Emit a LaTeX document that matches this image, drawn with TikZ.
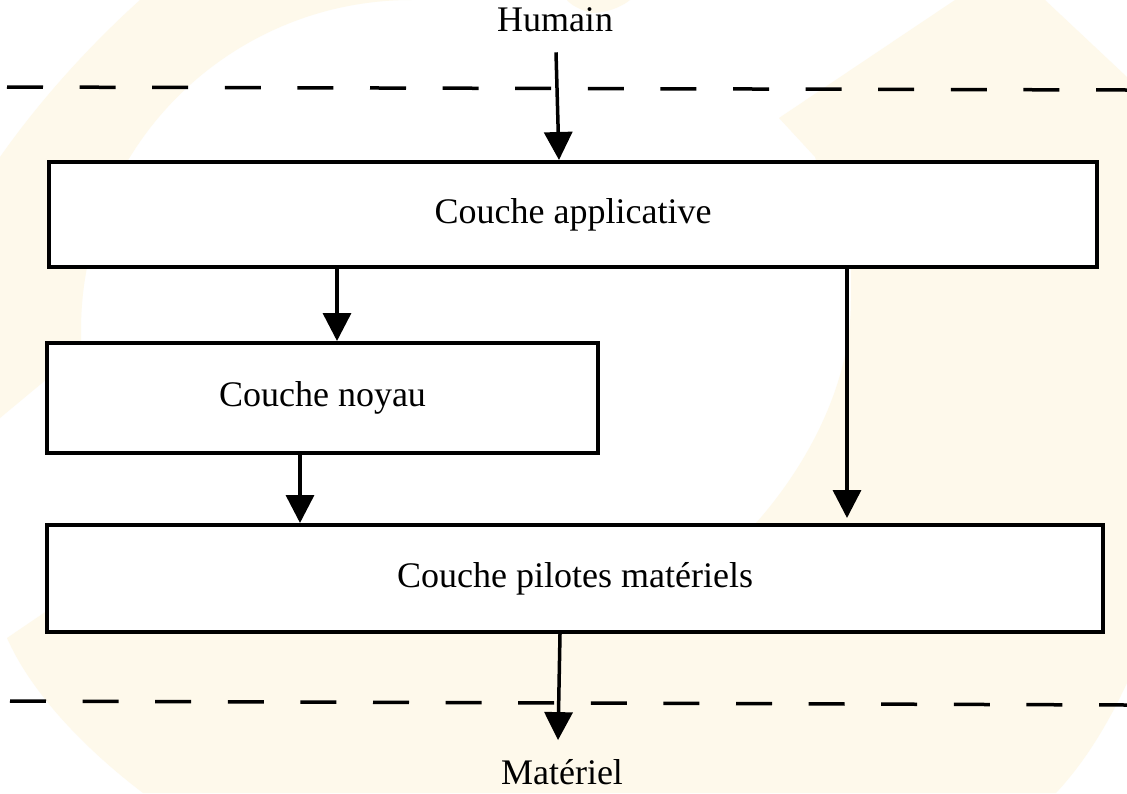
\documentclass[tikz,border=0pt]{standalone}
\usepackage{fontspec}
\setmainfont{Liberation Serif}
\usetikzlibrary{arrows.meta}
\definecolor{cream}{RGB}{254,249,235}
\begin{document}
\begin{tikzpicture}[x=1pt,y=-1pt,
  box/.style={draw=black,line width=4pt,fill=white,inner sep=0pt,font=\fontsize{36}{43}\selectfont},
  lbl/.style={inner sep=0pt,font=\fontsize{36}{43}\selectfont},
  arr/.style={line width=3.5pt,-{Triangle[width=28pt,length=28pt]}},
  sepline/.style={line width=3.5pt,dash pattern=on 36pt off 36.6pt}]
\useasboundingbox (0,0) rectangle (1127,793);
\fill[white] (0,0) rectangle (1127,793);
% faint watermark
\fill[cream] (140,0) -- (411,0) arc[start angle=-90,end angle=-183.5,radius=330] -- (0,418) -- (0,157) .. controls (40,100) and (90,45) .. (140,0) -- cycle;
\fill[cream] (779,118) -- (955,0) -- (1045,0) -- (1127,77) -- (1127,683)
  .. controls (1105,730) and (1082,765) .. (1056,793) -- (143,793)
  .. controls (80,745) and (30,690) .. (7,638) -- (60,602) -- (700,560) -- (740,540)
  .. controls (790,490) and (851,400) .. (851,300) -- (851,267) -- (815,157) -- cycle;
\fill[cream] (567,0) -- (630,0) .. controls (620,8) and (605,13) .. (592,13) .. controls (580,10) and (571,5) .. (567,0) -- cycle;
% separators
\draw[sepline] (7,87) -- (1127,90);
\draw[sepline] (10,701) -- (1127,705);
% nodes
\node[lbl] (humain) at (555,20) {Humain};
\node[box,minimum width=1048pt,minimum height=105pt] (app) at (573,214.5) {Couche applicative};
\node[box,minimum width=551pt,minimum height=110pt] (noyau) at (322.5,398) {Couche noyau};
\node[box,minimum width=1056pt,minimum height=107pt] (pilotes) at (575,578.5) {Couche pilotes matériels};
\node[lbl] (materiel) at (562,772) {Matériel};
% arrows
\draw[arr] ([xshift=1pt,yshift=-20pt]humain.south) -- ([xshift=-14pt]app.north);
\draw[arr] ([xshift=-236pt]app.south) -- ([xshift=14.5pt]noyau.north);
\draw[arr] ([xshift=274pt]app.south) -- ([xshift=272pt,yshift=5pt]pilotes.north);
\draw[arr] ([xshift=-22.5pt]noyau.south) -- ([xshift=-275pt]pilotes.north);
\draw[arr] ([xshift=-15pt]pilotes.south) -- ([xshift=-4pt,yshift=19pt]materiel.north);
\end{tikzpicture}
\end{document}
